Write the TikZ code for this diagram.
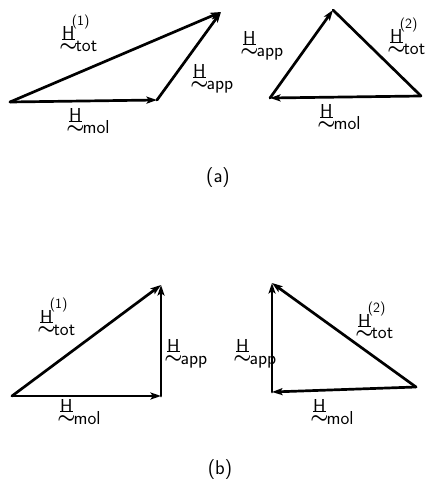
\documentclass[tikz,border=0pt]{standalone}
\usepackage{amsmath}
\usepackage{tikz}
\usetikzlibrary{arrows.meta}

% vector H: underlined H, tilde below, subscript dropped low, superscript over
\newcommand{\hvec}[2]{\mbox{%
  \ooalign{\rlap{\rule[-0.02em]{0.66em}{0.07em}}H\cr
    \hidewidth\raisebox{-0.6em}{$\boldsymbol{\sim}$}\hidewidth\cr}%
  \rlap{\kern-0.15em\raisebox{0.78em}{\fontsize{12}{13}\selectfont #2}}%
  \kern0.05em\raisebox{-0.64em}{#1}}}

\begin{document}
\begin{tikzpicture}[x=0.03cm, y=-0.03cm,
    vec/.style={-{Stealth[length=9pt, width=6pt, inset=2pt]}, line width=2.3pt, line cap=round, line join=round},
    bare/.style={line width=2.3pt, line cap=round},
    lbl/.style={font=\fontsize{16}{19}\selectfont\sffamily, inner sep=0pt, anchor=base west},
    figcap/.style={font=\fontsize{17}{20}\selectfont\sffamily}
  ]
  \useasboundingbox (0,0) rectangle (430,487);

  % (a) left triangle
  \coordinate (a1) at (10,102);
  \coordinate (a2) at (157,100);
  \coordinate (a3) at (221,12);
  \draw[vec] (a1) -- (a2);
  \draw[vec] (a2) -- (a3);
  \draw[vec] (a1) -- (a3);
  \node[lbl] (atot) at (62,40)  {\hvec{tot}{(1)}};
  \node[lbl] (aapp) at (193,78) {\hvec{app}{}};
  \node[lbl] (amol) at (69,122) {\hvec{mol}{}};

  % (a) right triangle
  \coordinate (b1) at (270,98);
  \coordinate (b2) at (333,10);
  \coordinate (b3) at (421,96);
  \draw[vec] (b3) -- (b1);
  \draw[vec] (b1) -- (b2);
  \draw[bare] (b3) -- (b2);
  \node[lbl] (bapp) at (243,45)  {\hvec{app}{}};
  \node[lbl] (btot) at (390,43)  {\hvec{tot}{(2)}};
  \node[lbl] (bmol) at (320,118) {\hvec{mol}{}};

  \node[figcap] (capa) at (218,178) {(a)};

  % (b) left triangle
  \coordinate (c1) at (12,396);
  \coordinate (c2) at (161,396);
  \coordinate (c3) at (161,285);
  \draw[vec] (c1) -- (c2);
  \draw[vec] (c2) -- (c3);
  \draw[vec] (c1) -- (c3);
  \node[lbl] (ctot) at (40,323)  {\hvec{tot}{(1)}};
  \node[lbl] (capp) at (167,352) {\hvec{app}{}};
  \node[lbl] (cmol) at (60,412)  {\hvec{mol}{}};

  % (b) right triangle
  \coordinate (d1) at (272,392);
  \coordinate (d2) at (272,283);
  \coordinate (d3) at (416,387);
  \draw[vec] (d3) -- (d1);
  \draw[vec] (d1) -- (d2);
  \draw[vec] (d3) -- (d2);
  \node[lbl] (dapp) at (236,352) {\hvec{app}{}};
  \node[lbl] (dtot) at (358,327) {\hvec{tot}{(2)}};
  \node[lbl] (dmol) at (313,412) {\hvec{mol}{}};

  \node[figcap] (capb) at (220,470) {(b)};
\end{tikzpicture}
\end{document}
